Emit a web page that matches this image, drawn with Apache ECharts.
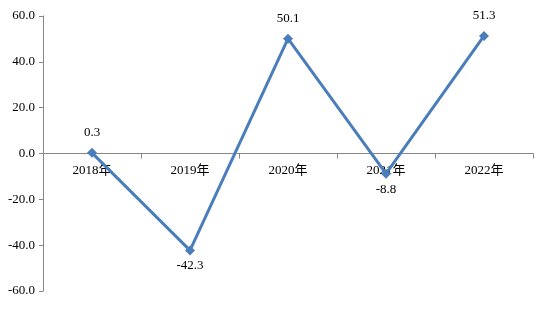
<!DOCTYPE html>
<html><head><meta charset="utf-8">
<script src="https://cdn.jsdelivr.net/npm/echarts@6/dist/echarts.min.js"></script>
<style>html,body{margin:0;padding:0;background:#fff}#c{width:548px;height:311px}</style>
</head><body><div id="c"></div>
<script>
const categories = ['2018年','2019年','2020年','2021年','2022年'];
const values = [0.3, -42.3, 50.1, -8.8, 51.3];
const labelPos = ['top','bottom','top','bottom','top'];
const yMin = -60, yMax = 60, yStep = 20;

const font = '"Liberation Serif","Times New Roman","Noto Sans CJK SC",serif';
const chart = echarts.init(document.getElementById('c'));
chart.setOption({
  animation: false,
  grid: {left: 43, right: 15, top: 16, bottom: 20, containLabel: false, outerBoundsMode: 'none'},
  xAxis: {
    type: 'category', data: categories, boundaryGap: true,
    offset: -137.5,
    axisLine: {onZero: false, lineStyle: {color: '#868686', width: 1}},
    axisTick: {show: true, length: 5, inside: false, lineStyle: {color: '#868686'}},
    axisLabel: {color: '#000', fontFamily: font, fontSize: 13, margin: 11},
    splitLine: {show: false}
  },
  yAxis: {
    type: 'value', min: yMin, max: yMax, interval: yStep,
    axisLine: {show: true, lineStyle: {color: '#868686', width: 1}},
    axisTick: {show: true, length: 4, lineStyle: {color: '#868686'}},
    axisLabel: {color: '#000', fontFamily: font, fontSize: 13, margin: 8,
      formatter: v => v.toFixed(1)},
    splitLine: {show: false}
  },
  series: [{
    type: 'line',
    data: values.map((v, i) => ({value: v, label: {position: labelPos[i], distance: labelPos[i] === 'top' ? 9 : 4}})),
    symbol: 'diamond', symbolSize: 10,
    lineStyle: {color: '#4a7ebb', width: 3},
    itemStyle: {color: '#4a7ebb'},
    label: {show: true, fontFamily: font, fontSize: 13, color: '#000',
      formatter: p => p.value.toFixed(1)}
  }]
});
</script></body></html>
